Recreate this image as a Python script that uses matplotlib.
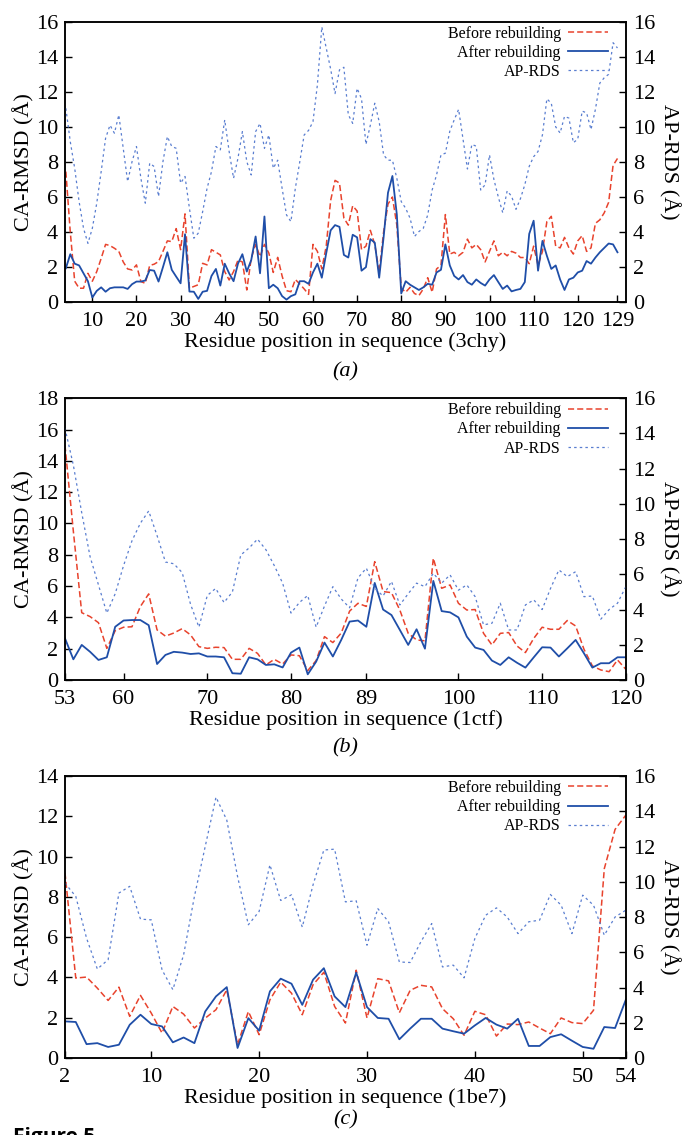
import matplotlib.pyplot as plt
from matplotlib.lines import Line2D

plt.rcParams["font.family"] = ["Liberation Serif", "DejaVu Serif"]
plt.rcParams["mathtext.fontset"] = "stix"

RED = "#e8432d"
BLUE = "#1f4ea8"
LIGHT = "#5a7ed0"

# (a) 3chy
res_a = list(range(4, 130))
before_a = [7.45, 4.0, 1.2, 0.8, 0.8, 1.65, 1.2, 1.75, 2.5, 3.3,
            3.23, 3.08, 2.9, 2.3, 1.9, 1.84, 2.13, 1.18, 1.08, 2.1,
            2.17, 2.32, 2.9, 3.5, 3.46, 4.2, 3.0, 5.04, 0.8, 0.9,
            1.0, 2.22, 2.13, 3.0, 2.85, 2.7, 1.75, 1.27, 1.75, 2.4,
            2.3, 0.7, 2.5, 3.3, 2.6, 3.3, 2.8, 1.7, 2.56, 1.5,
            0.66, 0.6, 1.3, 1.04, 0.76, 0.45, 3.3, 2.9, 1.9, 3.2,
            5.8, 6.95, 6.8, 4.8, 4.4, 5.5, 5.2, 3.0, 3.2, 4.1,
            3.3, 1.7, 4.0, 5.6, 6.0, 4.4, 0.8, 0.57, 0.85, 0.5,
            0.38, 0.76, 1.4, 0.57, 1.9, 2.1, 5.0, 2.75, 2.85, 2.65,
            2.85, 3.6, 3.1, 3.3, 3.0, 2.3, 2.9, 3.5, 2.65, 2.85,
            2.65, 2.9, 2.8, 2.55, 2.55, 2.2, 3.2, 2.1, 2.9, 4.6,
            4.9, 3.2, 3.1, 3.7, 3.1, 2.75, 3.5, 3.8, 2.9, 3.1,
            4.5, 4.7, 5.1, 5.7, 7.8, 8.2]
after_a = [1.94, 2.74, 2.2, 2.1, 1.65, 1.2, 0.27, 0.65, 0.85, 0.6,
           0.8, 0.85, 0.85, 0.85, 0.76, 1.03, 1.18, 1.18, 1.24, 1.84,
           1.8, 1.18, 2.0, 2.85, 1.85, 1.46, 1.08, 3.88, 0.61, 0.6,
           0.19, 0.6, 0.65, 1.5, 1.9, 0.95, 2.2, 1.65, 1.2, 2.2,
           2.74, 1.75, 2.4, 3.75, 1.65, 4.89, 0.8, 1.0, 0.8, 0.35,
           0.15, 0.35, 0.45, 1.2, 1.2, 1.05, 1.7, 2.2, 1.4, 2.8,
           4.1, 4.4, 4.3, 2.7, 2.55, 3.85, 3.7, 1.8, 2.0, 3.6,
           3.4, 1.4, 3.7, 6.25, 7.2, 5.0, 0.5, 1.2, 1.0, 0.85,
           0.7, 0.85, 1.05, 1.0, 1.7, 1.85, 3.3, 2.1, 1.5, 1.3,
           1.55, 1.15, 1.0, 1.3, 1.1, 0.95, 1.3, 1.55, 1.15, 0.76,
           0.95, 0.62, 0.7, 0.76, 1.15, 3.9, 4.65, 1.8, 3.5, 2.65,
           1.9, 2.1, 1.3, 0.7, 1.3, 1.4, 1.7, 1.8, 2.35, 2.2,
           2.55, 2.85, 3.1, 3.35, 3.3, 2.85]
aprds_a = [11.06, 9.16, 7.64, 5.74, 4.22, 3.36, 4.22, 5.65, 7.45, 9.35,
           10.1, 9.64, 10.68, 8.78, 6.88, 8.02, 8.88, 7.07, 5.65, 7.93,
           7.74, 6.03, 8.02, 9.45, 8.88, 8.78, 6.79, 7.17, 5.36, 3.65,
           3.94, 5.17, 6.5, 7.45, 8.88, 8.69, 10.4, 8.6, 7.07, 8.21,
           9.73, 8.02, 7.26, 9.73, 10.2, 8.78, 9.54, 7.64, 8.1, 6.5,
           4.98, 4.6, 6.5, 8.0, 9.54, 9.8, 10.3, 12.4, 15.7, 14.5,
           13.3, 11.9, 13.25, 13.4, 10.7, 10.2, 12.2, 11.6, 9.0, 10.1,
           11.35, 10.3, 8.4, 8.1, 8.1, 7.07, 5.74, 5.36, 4.79, 3.75,
           4.03, 4.22, 4.98, 6.4, 7.26, 8.4, 8.5, 9.75, 10.4, 11.0,
           9.3, 7.6, 9.0, 8.9, 6.4, 6.7, 8.4, 7.0, 6.0, 5.1,
           6.35, 6.05, 5.3, 5.9, 6.7, 7.75, 8.3, 8.6, 9.55, 11.6,
           11.35, 10.0, 9.65, 10.6, 10.5, 9.1, 9.3, 10.9, 10.8, 9.85,
           11.0, 12.5, 12.8, 13.0, 14.8, 14.5]

# (b) 1ctf
res_b = list(range(53, 121))
before_b = [15.0, 9.5, 4.3, 4.05, 3.66, 2.02, 3.15, 3.37, 3.4, 4.69,
            5.5, 3.2, 2.8, 3.0, 3.28, 2.88, 2.13, 2.02, 2.09, 2.07,
            1.32, 1.32, 2.02, 1.7, 0.96, 1.32, 1.02, 1.6, 1.55, 0.6,
            1.24, 2.77, 2.39, 3.0, 4.4, 4.9, 4.7, 7.56, 5.65, 5.58,
            4.47, 2.98, 2.56, 2.5, 7.78, 5.86, 6.07, 4.9, 4.47, 4.5,
            2.98, 2.24, 2.98, 3.03, 2.17, 1.75, 2.66, 3.37, 3.24, 3.24,
            3.8, 3.45, 1.96, 0.9, 0.64, 0.53, 1.28, 0.68]
after_b = [2.66, 1.32, 2.24, 1.8, 1.28, 1.45, 3.4, 3.8, 3.83, 3.83,
           3.5, 1.02, 1.6, 1.8, 1.75, 1.66, 1.7, 1.5, 1.5, 1.45,
           0.43, 0.4, 1.45, 1.32, 0.96, 1.0, 0.8, 1.75, 2.07, 0.36,
           1.17, 2.39, 1.5, 2.56, 3.73, 3.8, 3.4, 6.2, 4.5, 4.15,
           3.2, 2.24, 3.24, 2.0, 6.33, 4.4, 4.32, 4.0, 2.77, 2.07,
           1.92, 1.24, 0.96, 1.45, 1.1, 0.79, 1.45, 2.09, 2.07, 1.5,
           2.02, 2.56, 1.7, 0.79, 1.07, 1.07, 1.45, 1.45]
aprds_b = [14.3, 12.2, 9.5, 7.0, 5.4, 3.8, 4.9, 6.5, 7.9, 8.9,
           9.6, 8.2, 6.7, 6.6, 6.1, 4.3, 3.0, 4.8, 5.2, 4.4,
           5.0, 7.1, 7.5, 8.0, 7.4, 6.5, 5.5, 3.8, 4.4, 4.8,
           3.0, 4.2, 5.3, 4.6, 4.1, 5.8, 6.35, 5.2, 4.77, 5.6,
           4.26, 4.9, 5.5, 5.3, 6.06, 5.5, 5.97, 5.1, 5.4, 4.73,
           3.13, 3.22, 4.36, 2.84, 2.84, 4.26, 4.55, 4.0, 5.2, 6.25,
           5.87, 6.15, 4.73, 4.77, 3.45, 4.0, 4.36, 5.3]

# (c) 1be7
res_c = list(range(2, 55))
before_c = [9.2, 3.97, 4.02, 3.47, 2.86, 3.52, 2.07, 3.11, 2.23, 1.24,
            2.56, 2.18, 1.49, 1.98, 2.4, 3.39, 0.66, 2.31, 1.16, 2.89,
            3.77, 3.22, 2.15, 3.64, 4.26, 2.56, 1.74, 4.36, 1.99, 3.94,
            3.83, 2.25, 3.36, 3.61, 3.53, 2.45, 1.95, 1.13, 2.32, 2.15,
            1.09, 1.69, 1.66, 1.79, 1.49, 1.21, 1.99, 1.76, 1.71, 2.37,
            9.4, 11.35, 12.06]
after_c = [1.82, 1.79, 0.69, 0.74, 0.55, 0.66, 1.65, 2.15, 1.69, 1.57,
           0.78, 1.02, 0.74, 2.31, 3.06, 3.52, 0.5, 1.98, 1.36, 3.31,
           3.94, 3.69, 2.64, 3.89, 4.46, 3.06, 2.53, 4.24, 2.53, 1.99,
           1.95, 0.93, 1.46, 1.95, 1.95, 1.46, 1.33, 1.21, 1.62, 1.99,
           1.66, 1.46, 1.95, 0.6, 0.6, 1.04, 1.18, 0.86, 0.55, 0.46,
           1.54, 1.49, 2.9]
aprds_c = [9.92, 9.17, 6.8, 5.05, 5.58, 9.36, 9.74, 7.88, 7.84, 5.0,
           3.88, 5.86, 9.17, 12.0, 14.8, 13.5, 10.3, 7.56, 8.32, 10.96,
           8.94, 9.26, 7.43, 9.83, 11.8, 11.85, 8.86, 8.92, 6.4, 8.48,
           7.73, 5.45, 5.42, 6.6, 7.63, 5.17, 5.27, 4.55, 6.78, 8.1,
           8.52, 8.0, 7.06, 7.73, 7.82, 9.28, 8.67, 7.06, 9.24, 8.67,
           6.97, 8.0, 8.39]

FS = 16
RED_STYLE = dict(color=RED, lw=1.1, ls=(0, (4, 2)))
BLUE_STYLE = dict(color=BLUE, lw=1.3, ls="-")
AP_STYLE = dict(color=LIGHT, lw=0.9, ls=(0, (2, 2.5)))


def draw_panel(fig, rect, res, before, after, aprds, ymax, xlim, xticks,
               code, tag, tag_y):
    ax = fig.add_axes(rect)
    ax.plot(res, before, **RED_STYLE)
    ax.plot(res, after, **BLUE_STYLE)
    ax.set_xlim(*xlim)
    ax.set_ylim(0, ymax)
    ax.set_xticks(xticks)
    ax.set_yticks(range(0, ymax + 1, 2))
    ax.tick_params(direction="in", length=5, width=1, labelsize=FS,
                   top=False, right=False, pad=5)
    ax.tick_params(axis="x", pad=7)
    ax.set_ylabel("CA-RMSD (Å)", fontsize=FS, labelpad=1)
    ax.set_xlabel(f"Residue position in sequence ({code})", fontsize=FS,
                  labelpad=1)

    ax2 = ax.twinx()
    ax2.plot(res, aprds, **AP_STYLE)
    ax2.set_ylim(0, 16)
    ax2.set_yticks(range(0, 17, 2))
    ax2.tick_params(direction="in", length=5, width=1, labelsize=FS, pad=5)
    ax2.set_ylabel("AP-RDS (Å)", fontsize=FS, rotation=-90, labelpad=18)

    for a in (ax, ax2):
        for sp in a.spines.values():
            sp.set_linewidth(1.1)

    handles = [Line2D([], [], **RED_STYLE), Line2D([], [], **BLUE_STYLE),
               Line2D([], [], **AP_STYLE)]
    ax2.legend(handles, ["Before rebuilding", "After rebuilding", "AP-RDS"],
               loc="upper right", bbox_to_anchor=(0.975, 1.0),
               frameon=False, markerfirst=False, fontsize=11.5,
               handlelength=2.5, handletextpad=0.45, labelspacing=0.2,
               borderaxespad=0.1, borderpad=0.15)

    fig.text(0.505, tag_y, tag, fontsize=FS, style="italic", ha="center",
             va="center")
    return ax


fig = plt.figure(figsize=(6.84, 11.35), dpi=100)

draw_panel(fig, [0.095, 0.7337, 0.820, 0.2472], res_a, before_a, after_a,
           aprds_a, 16, (3.8, 130.9), [10, 20, 30, 40, 50, 60, 70, 80, 90,
                                       100, 110, 120, 129],
           "3chy", "(a)", 1 - 372 / 1135)
draw_panel(fig, [0.095, 0.4009, 0.820, 0.2482], res_b, before_b, after_b,
           aprds_b, 18, (53, 120), [53, 60, 70, 80, 89, 100, 110, 120],
           "1ctf", "(b)", 1 - 748 / 1135)
draw_panel(fig, [0.095, 0.0678, 0.820, 0.2485], res_c, before_c, after_c,
           aprds_c, 14, (2, 54), [2, 10, 20, 30, 40, 50, 54],
           "1be7", "(c)", 1 - 1120 / 1135)

fig.text(0.019, 1 - 1143 / 1135, "Figure 5", fontsize=15,
         fontweight="bold", family=["Open Sans", "DejaVu Sans"],
         ha="left", va="baseline")

fig.savefig("out.png", dpi=100)
